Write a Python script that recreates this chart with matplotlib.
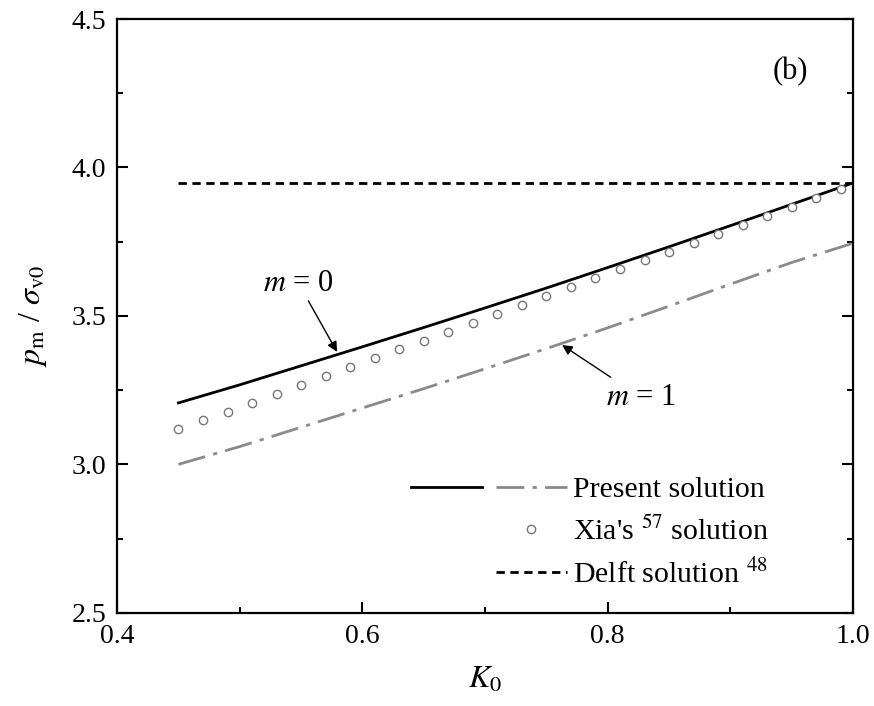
import matplotlib
matplotlib.use('Agg')
import matplotlib.pyplot as plt
from matplotlib.lines import Line2D
from matplotlib.legend_handler import HandlerTuple
from matplotlib.ticker import MultipleLocator

plt.rcParams['font.family'] = 'Liberation Serif'
plt.rcParams['mathtext.fontset'] = 'stix'

# datos
k0_present = [0.45, 0.50, 0.55, 0.60, 0.65, 0.70, 0.75, 0.80, 0.85, 0.90, 0.95, 1.00]
p_m0 = [3.207, 3.268, 3.332, 3.396, 3.461, 3.527, 3.594, 3.663, 3.733, 3.804, 3.876, 3.948]
p_m1 = [3.00, 3.06, 3.125, 3.19, 3.255, 3.322, 3.39, 3.46, 3.533, 3.607, 3.68, 3.745]

k0_xia = [0.45, 0.47, 0.49, 0.51, 0.53, 0.55, 0.57, 0.59, 0.61, 0.63, 0.65, 0.67, 0.69, 0.71,
          0.73, 0.75, 0.77, 0.79, 0.81, 0.83, 0.85, 0.87, 0.89, 0.91, 0.93, 0.95, 0.97, 0.99]
p_xia = [3.118, 3.149, 3.178, 3.208, 3.236, 3.268, 3.297, 3.327, 3.358, 3.388, 3.417, 3.447,
         3.476, 3.508, 3.537, 3.567, 3.597, 3.627, 3.657, 3.689, 3.717, 3.747, 3.776, 3.806,
         3.837, 3.868, 3.896, 3.927]

k0_delft = [0.45, 1.00]
p_delft = [3.948, 3.948]

fig = plt.figure(figsize=(8.74, 7.06), dpi=100)
ax = fig.add_axes([0.134, 0.132, 0.842, 0.841])

gray = '#8a8a8a'
l0, = ax.plot(k0_present, p_m0, color='black', lw=2.0)
l1, = ax.plot(k0_present, p_m1, color=gray, lw=2.0, dashes=(10, 3, 1.5, 3))
lx, = ax.plot(k0_xia, p_xia, ls='none', marker='o', ms=6, mfc='white', mec='#777777', mew=1.0)
ld, = ax.plot(k0_delft, p_delft, color='black', lw=2.0, dashes=(3, 2))

ax.set_xlim(0.4, 1.0)
ax.set_ylim(2.5, 4.5)
ax.xaxis.set_major_locator(MultipleLocator(0.2))
ax.xaxis.set_minor_locator(MultipleLocator(0.1))
ax.yaxis.set_major_locator(MultipleLocator(0.5))
ax.yaxis.set_minor_locator(MultipleLocator(0.25))
ax.tick_params(which='both', direction='in', right=True, top=False, width=1.5, labelsize=20)
ax.tick_params(which='major', length=8, pad=8)
ax.tick_params(which='minor', length=4.5)
for s in ax.spines.values():
    s.set_linewidth(1.6)

ax.set_xlabel('$K_0$', fontsize=23, labelpad=12)
ax.set_ylabel(r'$p_{\mathrm{m}}$ / $\sigma_{\mathrm{v0}}$', fontsize=23, labelpad=16)

# anotaciones
ax.annotate('$m$ = 0', xy=(0.5793, 3.379), xytext=(0.548, 3.56), fontsize=22,
            ha='center', va='bottom',
            arrowprops=dict(arrowstyle='-|>', color='black', lw=1.0, mutation_scale=15,
                            shrinkA=0, shrinkB=0))
ax.annotate('$m$ = 1', xy=(0.7628, 3.402), xytext=(0.799, 3.225), fontsize=22,
            ha='left', va='center',
            arrowprops=dict(arrowstyle='-|>', color='black', lw=1.0, mutation_scale=15,
                            shrinkA=4, shrinkB=0))
ax.text(0.915, 0.912, '(b)', transform=ax.transAxes, fontsize=22, ha='center', va='center')

# leyenda
blank = Line2D([], [], ls='none')
ax.legend([(l0, l1), (blank, lx), (blank, ld)],
          ['Present solution', "Xia's $^{57}$ solution", 'Delft solution $^{48}$'],
          handler_map={tuple: HandlerTuple(ndivide=None, pad=0.45)},
          loc='upper left', bbox_to_anchor=(0.40, 0.23), frameon=False,
          fontsize=21.5, handlelength=5.2, handletextpad=0.2, labelspacing=0.45,
          borderpad=0, borderaxespad=0)

plt.savefig('out.png', dpi=100)
